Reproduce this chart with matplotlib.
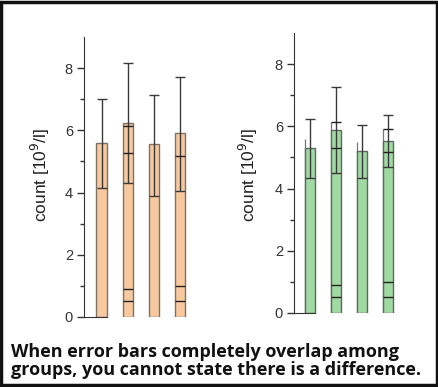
import numpy as np
import matplotlib.pyplot as plt
from matplotlib.patches import Rectangle

# left panel (orange)
orange_means = [5.6, 6.25, 5.55, 5.93]
orange_low = [4.15, 4.3, 3.9, 4.05]
orange_high = [7.0, 8.15, 7.15, 7.7]
orange_marks = [[], [6.15, 5.28, 0.9, 0.5], [], [5.17, 1.0, 0.5]]
orange_ghost = [None, None, None, None]

# right panel (green)
green_means = [5.3, 5.87, 5.2, 5.53]
green_low = [4.35, 4.5, 4.35, 4.7]
green_high = [6.25, 7.25, 6.05, 6.35]
green_marks = [[], [6.15, 5.3, 0.9, 0.5], [], [5.93, 5.17, 1.0, 0.5]]
green_ghost = [5.6, 6.15, 5.5, 5.93]

yticks = [0, 2, 4, 6, 8]
ylabel = 'count [10$^9$/l]'
caption = ('When error bars completely overlap among\n'
           'groups, you cannot state there is a difference.')

W, H = 438, 387
fig = plt.figure(figsize=(W / 100, H / 100), dpi=100)
fig.patch.set_facecolor('white')


def panel(left_px, zero_px, top_px, right_px, means, low, high, marks, ghost,
          fill, edge, xleft, xright, label_x):
    ax = fig.add_axes([left_px / W, 1 - zero_px / H,
                       (right_px - left_px) / W, (zero_px - top_px) / H])
    x = np.arange(len(means))
    w = 0.4
    ax.bar(x, means, width=w, color=fill, edgecolor=edge, linewidth=1.0, zorder=2)
    means = np.array(means)
    yerr = [means - np.array(low), np.array(high) - means]
    ax.errorbar(x, means, yerr=yerr, fmt='none', ecolor='#3a3a3a',
                elinewidth=1.0, capsize=3.5, capthick=1.0, zorder=3)
    for i, ys in enumerate(marks):
        if ys:
            ax.hlines(ys, x[i] - w / 2, x[i] + w / 2, color='#222222',
                      linewidth=1.0, zorder=4)
    for i, g in enumerate(ghost):
        if g is not None:
            ax.vlines(x[i] - w / 2, 0, g, color='#777777', linewidth=0.9, zorder=1)
    ax.set_xlim(xleft, xright)
    ax.set_ylim(0, 9)
    ax.set_yticks(yticks)
    ax.set_yticks([1, 3, 5, 7], minor=True)
    ax.tick_params(axis='y', which='major', length=5, width=1, color='#333333',
                   labelsize=10.5, labelcolor='#333333', pad=3)
    ax.tick_params(axis='y', which='minor', length=3, width=1, color='#333333')
    ax.set_xticks([])
    for s in ['top', 'right']:
        ax.spines[s].set_visible(False)
    ax.spines['left'].set_color('#333333')
    ax.spines['bottom'].set_color('#333333')
    ax.spines['bottom'].set_bounds(xleft, w / 2)
    ax.set_facecolor('none')
    ax.set_ylabel(ylabel, fontsize=12.5, color='#222222',
                  fontfamily='Liberation Sans')
    lx = (label_x - left_px) / (right_px - left_px)
    ax.yaxis.set_label_coords(lx, (zero_px - 175) / (zero_px - top_px))
    for t in ax.get_yticklabels():
        t.set_fontfamily('Liberation Sans')
    return ax


panel(84, 317, 37, 192, orange_means, orange_low, orange_high, orange_marks,
      orange_ghost, '#F8C99E', '#7d7264', -0.67, 3.45, 52)
panel(294, 313, 33, 400, green_means, green_low, green_high, green_marks,
      green_ghost, '#A0D9A2', '#5d6a5d', -0.62, 3.45, 260)

fig.text(11 / W, 1 - 361 / H, caption, fontsize=13.0, fontweight='bold',
         fontfamily='Open Sans', color='#111111', va='center', ha='left',
         linespacing=0.95)

fig.patches.append(Rectangle((0.003, 0.004), 0.994, 0.992, transform=fig.transFigure,
                             fill=False, edgecolor='#111111', linewidth=2.5))

fig.savefig('out.png', dpi=100)
